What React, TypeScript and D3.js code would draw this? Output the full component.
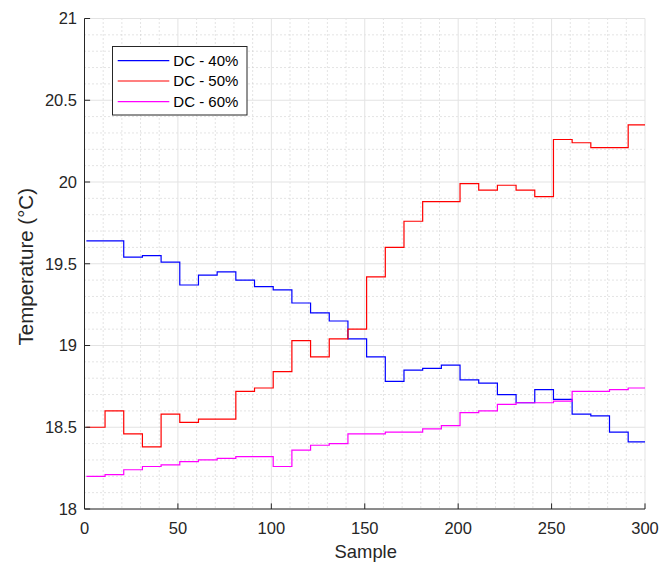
import React from "react";
import * as d3 from "d3";

// Sample index where each held value starts (values change every 10 samples)
const sampleStarts = [1, 11, 21, 31, 41, 51, 61, 71, 81, 91, 101, 111, 121, 131, 141, 151, 161, 171, 181, 191, 201, 211, 221, 231, 241, 251, 261, 271, 281, 291];
const lastSample = 300;

const dc40 = [19.64, 19.64, 19.54, 19.55, 19.51, 19.37, 19.43, 19.45, 19.40, 19.36, 19.34, 19.26, 19.20, 19.15, 19.04, 18.93, 18.78, 18.85, 18.86, 18.88, 18.79, 18.77, 18.70, 18.65, 18.73, 18.67, 18.58, 18.57, 18.47, 18.41];
const dc50 = [18.50, 18.60, 18.46, 18.38, 18.58, 18.53, 18.55, 18.55, 18.72, 18.74, 18.84, 19.03, 18.93, 19.04, 19.10, 19.42, 19.60, 19.76, 19.88, 19.88, 19.99, 19.95, 19.98, 19.95, 19.91, 20.26, 20.24, 20.21, 20.21, 20.35];
const dc60 = [18.20, 18.21, 18.24, 18.26, 18.27, 18.29, 18.30, 18.31, 18.32, 18.32, 18.26, 18.36, 18.39, 18.40, 18.46, 18.46, 18.47, 18.47, 18.49, 18.51, 18.59, 18.60, 18.64, 18.65, 18.65, 18.66, 18.72, 18.72, 18.73, 18.74];

const seriesNames = ["DC - 40%", "DC - 50%", "DC - 60%"];
const seriesColors = ["#0000ff", "#ff0000", "#ff00ff"];

const xTicks = [0, 50, 100, 150, 200, 250, 300];
const yTicks = [18, 18.5, 19, 19.5, 20, 20.5, 21];
const xMinor = [10, 20, 30, 40, 60, 70, 80, 90, 110, 120, 130, 140, 160, 170, 180, 190, 210, 220, 230, 240, 260, 270, 280, 290];
const yMinor = [18.1, 18.2, 18.3, 18.4, 18.6, 18.7, 18.8, 18.9, 19.1, 19.2, 19.3, 19.4, 19.6, 19.7, 19.8, 19.9, 20.1, 20.2, 20.3, 20.4, 20.6, 20.7, 20.8, 20.9];

const W = 662;
const H = 565;
const left = 84.5;
const right = 645;
const top = 18.5;
const bottom = 509;
const AX = "#262626";
const FONT = "'Liberation Sans', Arial, Helvetica, sans-serif";

export default function App() {
  const x = d3.scaleLinear().domain([0, 300]).range([left, right]);
  const y = d3.scaleLinear().domain([18, 21]).range([bottom, top]);

  const line = d3
    .line<[number, number]>()
    .x((d) => x(d[0]))
    .y((d) => y(d[1]))
    .curve(d3.curveStepAfter);

  const allSeries = [dc40, dc50, dc60];
  const paths = allSeries.map((vals) => {
    const pts: [number, number][] = sampleStarts.map((s, i) => [s, vals[i]]);
    pts.push([lastSample, vals[vals.length - 1]]);
    return line(pts) || "";
  });

  const tickLen = 5.6;
  const legX = 112.5;
  const legY = 46.5;
  const legW = 134.5;
  const legH = 68.5;
  const rowY = [60.7, 81, 101.7];

  return (
    <svg
      width={W}
      height={H}
      style={{ position: "absolute", left: 0, top: 0, background: "#fff" }}
      fontFamily={FONT}
    >
      <rect x={0} y={0} width={W} height={H} fill="#fff" />
      {/* minor grid */}
      {xMinor.map((v) => (
        <line key={"xm" + v} x1={x(v)} x2={x(v)} y1={top} y2={bottom} stroke="#c8c8c8" strokeWidth={1} strokeDasharray="1,3" />
      ))}
      {yMinor.map((v) => (
        <line key={"ym" + v} x1={left} x2={right} y1={y(v)} y2={y(v)} stroke="#c8c8c8" strokeWidth={1} strokeDasharray="1,3" />
      ))}
      {/* major grid */}
      {xTicks.map((v) => (
        <line key={"xg" + v} x1={x(v)} x2={x(v)} y1={top} y2={bottom} stroke="#e3e3e3" strokeWidth={1} />
      ))}
      {yTicks.map((v) => (
        <line key={"yg" + v} x1={left} x2={right} y1={y(v)} y2={y(v)} stroke="#e3e3e3" strokeWidth={1} />
      ))}

      {/* series */}
      {paths.map((p, i) => (
        <path key={"s" + i} d={p} fill="none" stroke={seriesColors[i]} strokeWidth={1.2} />
      ))}

      {/* axes */}
      <line x1={left} x2={left} y1={top} y2={bottom} stroke={AX} strokeWidth={1} />
      <line x1={left} x2={right} y1={bottom} y2={bottom} stroke={AX} strokeWidth={1} />
      {yTicks.map((v) => (
        <g key={"yt" + v}>
          <line x1={left} x2={left + tickLen} y1={y(v)} y2={y(v)} stroke={AX} strokeWidth={1} />
          <text x={77} y={y(v)} dy="0.36em" textAnchor="end" fontSize={16.5} fill={AX}>
            {String(v)}
          </text>
        </g>
      ))}
      {xTicks.map((v) => (
        <g key={"xt" + v}>
          <line x1={x(v)} x2={x(v)} y1={bottom} y2={bottom - tickLen} stroke={AX} strokeWidth={1} />
          <text x={x(v)} y={534} textAnchor="middle" fontSize={16.5} fill={AX}>
            {String(v)}
          </text>
        </g>
      ))}

      {/* axis labels */}
      <text x={(left + right) / 2 + 1} y={558} textAnchor="middle" fontSize={18.4} fill={AX}>
        Sample
      </text>
      <text
        transform={`translate(33, ${(top + bottom) / 2 + 3}) rotate(-90)`}
        textAnchor="middle"
        fontSize={20.5}
        fill={AX}
      >
        Temperature (°C)
      </text>

      {/* legend */}
      <rect x={legX} y={legY} width={legW} height={legH} fill="#fff" stroke={AX} strokeWidth={1} />
      {seriesNames.map((n, i) => (
        <g key={"lg" + i}>
          <line x1={117.7} x2={169.3} y1={rowY[i]} y2={rowY[i]} stroke={seriesColors[i]} strokeWidth={1.2} />
          <text x={173.3} y={rowY[i]} dy="0.36em" fontSize={15} fill="#000">
            {n}
          </text>
        </g>
      ))}
    </svg>
  );
}
